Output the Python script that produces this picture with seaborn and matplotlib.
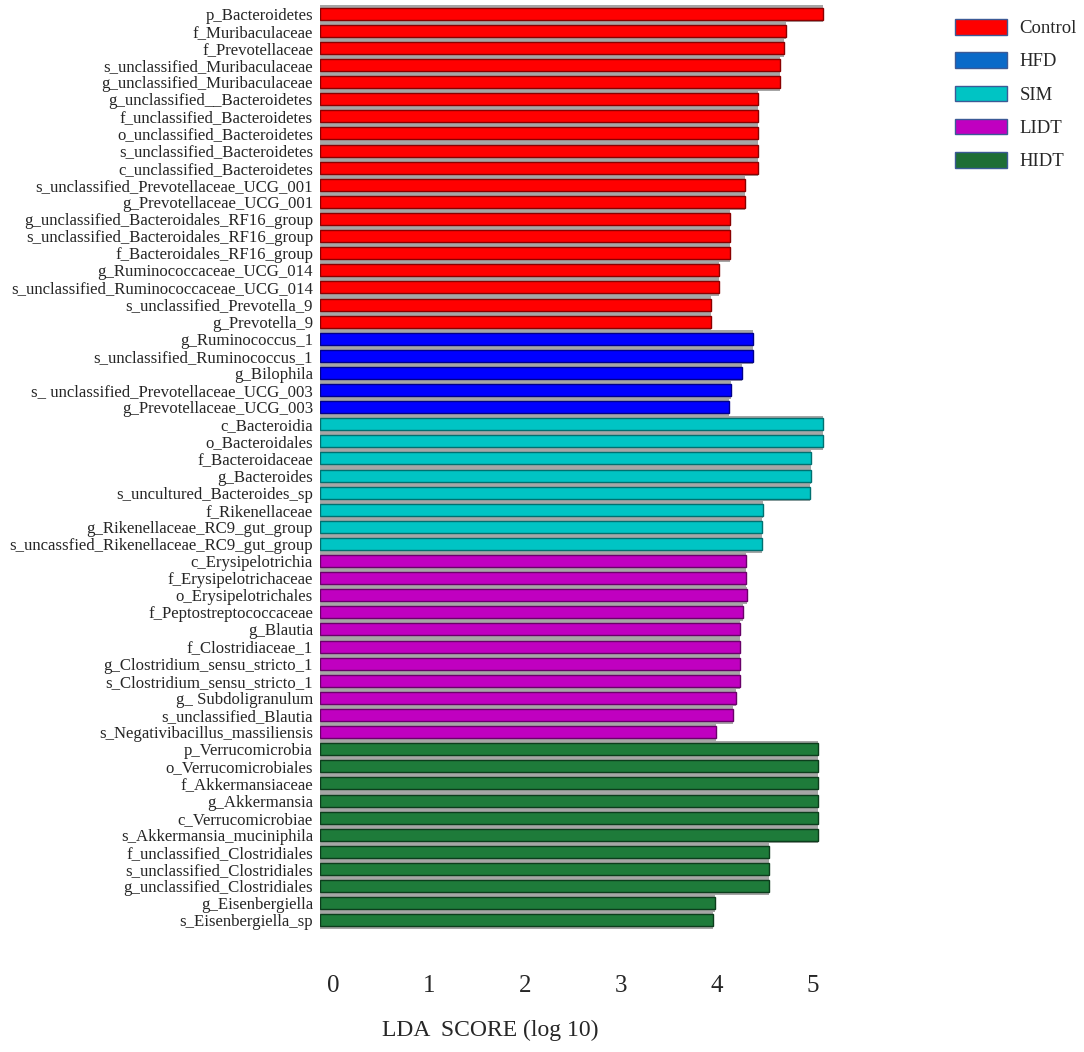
import matplotlib
matplotlib.use("Agg")
import matplotlib.pyplot as plt
import matplotlib.transforms as mtrans
from matplotlib.patches import Patch
import seaborn as sns
import pandas as pd

# ── Data ───────────────────────────────────────────────────────────────────────
CONTROL_TAXA = [
    "p_Bacteroidetes", "f_Muribaculaceae", "f_Prevotellaceae",
    "s_unclassified_Muribaculaceae", "g_unclassified_Muribaculaceae",
    "g_unclassified__Bacteroidetes", "f_unclassified_Bacteroidetes",
    "o_unclassified_Bacteroidetes", "s_unclassified_Bacteroidetes",
    "c_unclassified_Bacteroidetes", "s_unclassified_Prevotellaceae_UCG_001",
    "g_Prevotellaceae_UCG_001", "g_unclassified_Bacteroidales_RF16_group",
    "s_unclassified_Bacteroidales_RF16_group", "f_Bacteroidales_RF16_group",
    "g_Ruminococcaceae_UCG_014", "s_unclassified_Ruminococcaceae_UCG_014",
    "s_unclassified_Prevotella_9", "g_Prevotella_9",
]
CONTROL_LDA = [5.24, 4.85, 4.83, 4.79, 4.79, 4.56, 4.56, 4.56, 4.56, 4.56,
               4.43, 4.43, 4.27, 4.27, 4.27, 4.16, 4.16, 4.07, 4.07]

HFD_TAXA = [
    "g_Ruminococcus_1", "s_unclassified_Ruminococcus_1", "g_Bilophila",
    "s_ unclassified_Prevotellaceae_UCG_003", "g_Prevotellaceae_UCG_003",
]
HFD_LDA = [4.51, 4.51, 4.40, 4.28, 4.26]

SIM_TAXA = [
    "c_Bacteroidia", "o_Bacteroidales", "f_Bacteroidaceae", "g_Bacteroides",
    "s_uncultured_Bacteroides_sp", "f_Rikenellaceae",
    "g_Rikenellaceae_RC9_gut_group", "s_uncassfied_Rikenellaceae_RC9_gut_group",
]
SIM_LDA = [5.24, 5.24, 5.11, 5.11, 5.10, 4.61, 4.60, 4.60]

LIDT_TAXA = [
    "c_Erysipelotrichia", "f_Erysipelotrichaceae", "o_Erysipelotrichales",
    "f_Peptostreptococcaceae", "g_Blautia", "f_Clostridiaceae_1",
    "g_Clostridium_sensu_stricto_1", "s_Clostridium_sensu_stricto_1",
    "g_ Subdoligranulum", "s_unclassified_Blautia",
    "s_Negativibacillus_massiliensis",
]
LIDT_LDA = [4.44, 4.44, 4.45, 4.41, 4.38, 4.37, 4.37, 4.37, 4.33, 4.30, 4.12]

HIDT_TAXA = [
    "p_Verrucomicrobia", "o_Verrucomicrobiales", "f_Akkermansiaceae",
    "g_Akkermansia", "c_Verrucomicrobiae", "s_Akkermansia_muciniphila",
    "f_unclassified_Clostridiales", "s_unclassified_Clostridiales",
    "g_unclassified_Clostridiales", "g_Eisenbergiella", "s_Eisenbergiella_sp",
]
HIDT_LDA = [5.19, 5.19, 5.19, 5.19, 5.19, 5.19, 4.68, 4.68, 4.68, 4.11, 4.09]

GROUPS = ["Control", "HFD", "SIM", "LIDT", "HIDT"]
TICKS = [0, 1, 2, 3, 4, 5]

# ── Style ──────────────────────────────────────────────────────────────────────
BAR_COLORS = {"Control": "#ff0000", "HFD": "#0000ff", "SIM": "#00c4c4",
              "LIDT": "#c000c0", "HIDT": "#1e7b3a"}
EDGE_COLORS = {"Control": "#8a0000", "HFD": "#00008a", "SIM": "#007070",
               "LIDT": "#6a006a", "HIDT": "#0c3d1c"}
LEGEND_COLORS = {"Control": "#ff0000", "HFD": "#0a6ac8", "SIM": "#00c4c4",
                 "LIDT": "#c000c0", "HIDT": "#1e6e36"}
SEP_GRAY = "#a6a6a6"
FONT = "Liberation Serif"

sns.set_theme(style="white")
plt.rcParams["font.family"] = [FONT, "DejaVu Serif"]

frames = []
for g, taxa, lda in zip(GROUPS,
                        [CONTROL_TAXA, HFD_TAXA, SIM_TAXA, LIDT_TAXA, HIDT_TAXA],
                        [CONTROL_LDA, HFD_LDA, SIM_LDA, LIDT_LDA, HIDT_LDA]):
    frames.append(pd.DataFrame({"taxon": taxa, "lda": lda, "group": g}))
df = pd.concat(frames, ignore_index=True)
n = len(df)

fig = plt.figure(figsize=(10.84, 10.52), dpi=100)
ax = fig.add_axes([320 / 1084, 1 - 928.8 / 1052, 528 / 1084, 923.6 / 1052])

# grey separator layer (full row height)
sns.barplot(data=df, x="lda", y="taxon", orient="h", color=SEP_GRAY,
            width=1.0, linewidth=0, saturation=1, ax=ax, errorbar=None)
n_sep = len(ax.patches)

# coloured bars
sns.barplot(data=df, x="lda", y="taxon", hue="group", palette=BAR_COLORS,
            orient="h", width=0.7, dodge=False, saturation=1, legend=False,
            ax=ax, errorbar=None)
for p in ax.patches[n_sep:]:
    if p.get_width() == 0:
        continue
    row = int(round(p.get_y() + p.get_height() / 2))
    p.set_edgecolor(EDGE_COLORS[df.loc[row, "group"]])
    p.set_linewidth(1.0)

ax.set_xlim(0, 5.5)
ax.set_ylim(n - 0.5, -0.5)
sns.despine(ax=ax, left=True, bottom=True)
ax.set_xlabel("")
ax.set_ylabel("")
ax.set_xticks(TICKS)
ax.set_xticklabels([str(t) for t in TICKS], fontsize=18)
ax.tick_params(axis="x", length=0, pad=33)
ax.tick_params(axis="y", length=0, pad=5, labelsize=12.1)
ax.grid(False)

# tick labels sit a little right of the tick positions in the original
offset = mtrans.ScaledTranslation(13 / 100, 0, fig.dpi_scale_trans)
for lbl in ax.get_xticklabels():
    lbl.set_transform(lbl.get_transform() + offset)

fig.text(490 / 1084, 1 - 1030 / 1052, "LDA  SCORE (log 10)",
         ha="center", va="center", fontsize=17)

handles = [Patch(facecolor=LEGEND_COLORS[g], edgecolor="#3c5a96", linewidth=1.0,
                 label=g) for g in GROUPS]
fig.legend(handles=handles, loc="upper left",
           bbox_to_anchor=(955 / 1084, 1 - 19 / 1052), frameon=False,
           fontsize=13.5, handlelength=2.75, handleheight=0.9,
           labelspacing=0.8, handletextpad=0.7, borderaxespad=0,
           borderpad=0)

fig.savefig("out.png", dpi=100, facecolor="white")
